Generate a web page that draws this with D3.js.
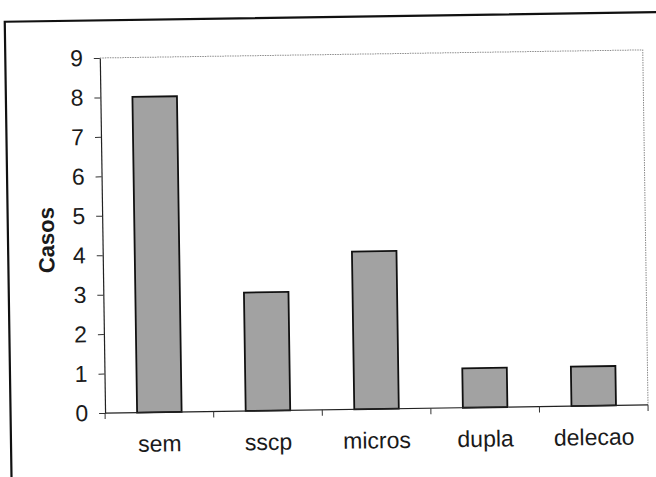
<!DOCTYPE html>
<html>
<head>
<meta charset="utf-8">
<script src="https://cdn.jsdelivr.net/npm/d3@7"></script>
<style>
  html, body { margin: 0; padding: 0; background: #ffffff; }
  svg { display: block; }
  text { font-family: Arial, "Liberation Sans", sans-serif; fill: #1a1a1a; }
</style>
</head>
<body>
<script>
// Cases per category
const categories = ["sem", "sscp", "micros", "dupla", "delecao"];
const casos = [8, 3, 4, 1, 1];
const yTicks = [0, 1, 2, 3, 4, 5, 6, 7, 8, 9];
const yLabel = "Casos";

const W = 656, H = 477;
const svg = d3.select("body").append("svg")
  .attr("width", W).attr("height", H);

// whole sheet sits slightly tilted on the page
const page = svg.append("g").attr("transform", "rotate(-0.85, 328, 238)");

// outer chart frame (runs off the right and bottom edges)
page.append("path")
  .attr("d", "M8,500 L8,17 L700,17")
  .attr("fill", "none")
  .attr("stroke", "#111")
  .attr("stroke-width", 2.2);

const plot = { left: 102.5, right: 645.5, top: 54.6, bottom: 409.7 };

const x = d3.scaleBand()
  .domain(categories)
  .range([plot.left, plot.right])
  .paddingInner(0.59)
  .paddingOuter(0.295);

const y = d3.scaleLinear()
  .domain([0, 9])
  .range([plot.bottom, plot.top]);

// plot area border (dotted, top and right)
page.append("path")
  .attr("d", `M${plot.left},${y(9)} L${plot.right},${y(9)} L${plot.right},${y(0)}`)
  .attr("fill", "none")
  .attr("stroke", "#8a8a8a")
  .attr("stroke-width", 1)
  .attr("stroke-dasharray", "1.5,1");

// bars
page.append("g").selectAll("rect")
  .data(categories)
  .join("rect")
  .attr("x", d => x(d))
  .attr("width", x.bandwidth())
  .attr("y", (d, i) => y(casos[i]))
  .attr("height", (d, i) => y(0) - y(casos[i]))
  .attr("fill", "#a2a2a2")
  .attr("stroke", "#111")
  .attr("stroke-width", 1.8);

// y axis
const yAxis = page.append("g")
  .attr("transform", `translate(${plot.left},0)`)
  .call(d3.axisLeft(y).tickValues(yTicks).tickFormat(d3.format("d"))
    .tickSize(6).tickSizeOuter(0).tickPadding(11));
yAxis.select(".domain").attr("stroke", "#222").attr("stroke-width", 1.2);
yAxis.selectAll(".tick line").attr("stroke", "#333");
yAxis.selectAll("text")
  .style("font-size", "23px")
  .attr("fill", "#1a1a1a");

// x axis: baseline, boundary ticks, centred labels
const step = x.step();
const bounds = categories.map(c => x(c) - step * x.paddingInner() / 2)
  .concat([x(categories[categories.length - 1]) + x.bandwidth() + step * x.paddingInner() / 2]);

const xAxis = page.append("g");
xAxis.append("line")
  .attr("x1", plot.left).attr("x2", plot.right)
  .attr("y1", y(0)).attr("y2", y(0))
  .attr("stroke", "#222").attr("stroke-width", 1.2);
xAxis.selectAll("line.tick")
  .data(bounds)
  .join("line")
  .attr("class", "tick")
  .attr("x1", d => d).attr("x2", d => d)
  .attr("y1", y(0)).attr("y2", y(0) + 6)
  .attr("stroke", "#333").attr("stroke-width", 1);
xAxis.selectAll("text")
  .data(categories)
  .join("text")
  .attr("x", d => x(d) + x.bandwidth() / 2)
  .attr("y", 449)
  .attr("text-anchor", "middle")
  .style("font-size", "23px")
  .text(d => d);

// y axis title
page.append("text")
  .attr("transform", `translate(54, 236) rotate(-90)`)
  .attr("text-anchor", "middle")
  .style("font-size", "22px")
  .style("font-weight", "bold")
  .text(yLabel);
</script>
</body>
</html>
